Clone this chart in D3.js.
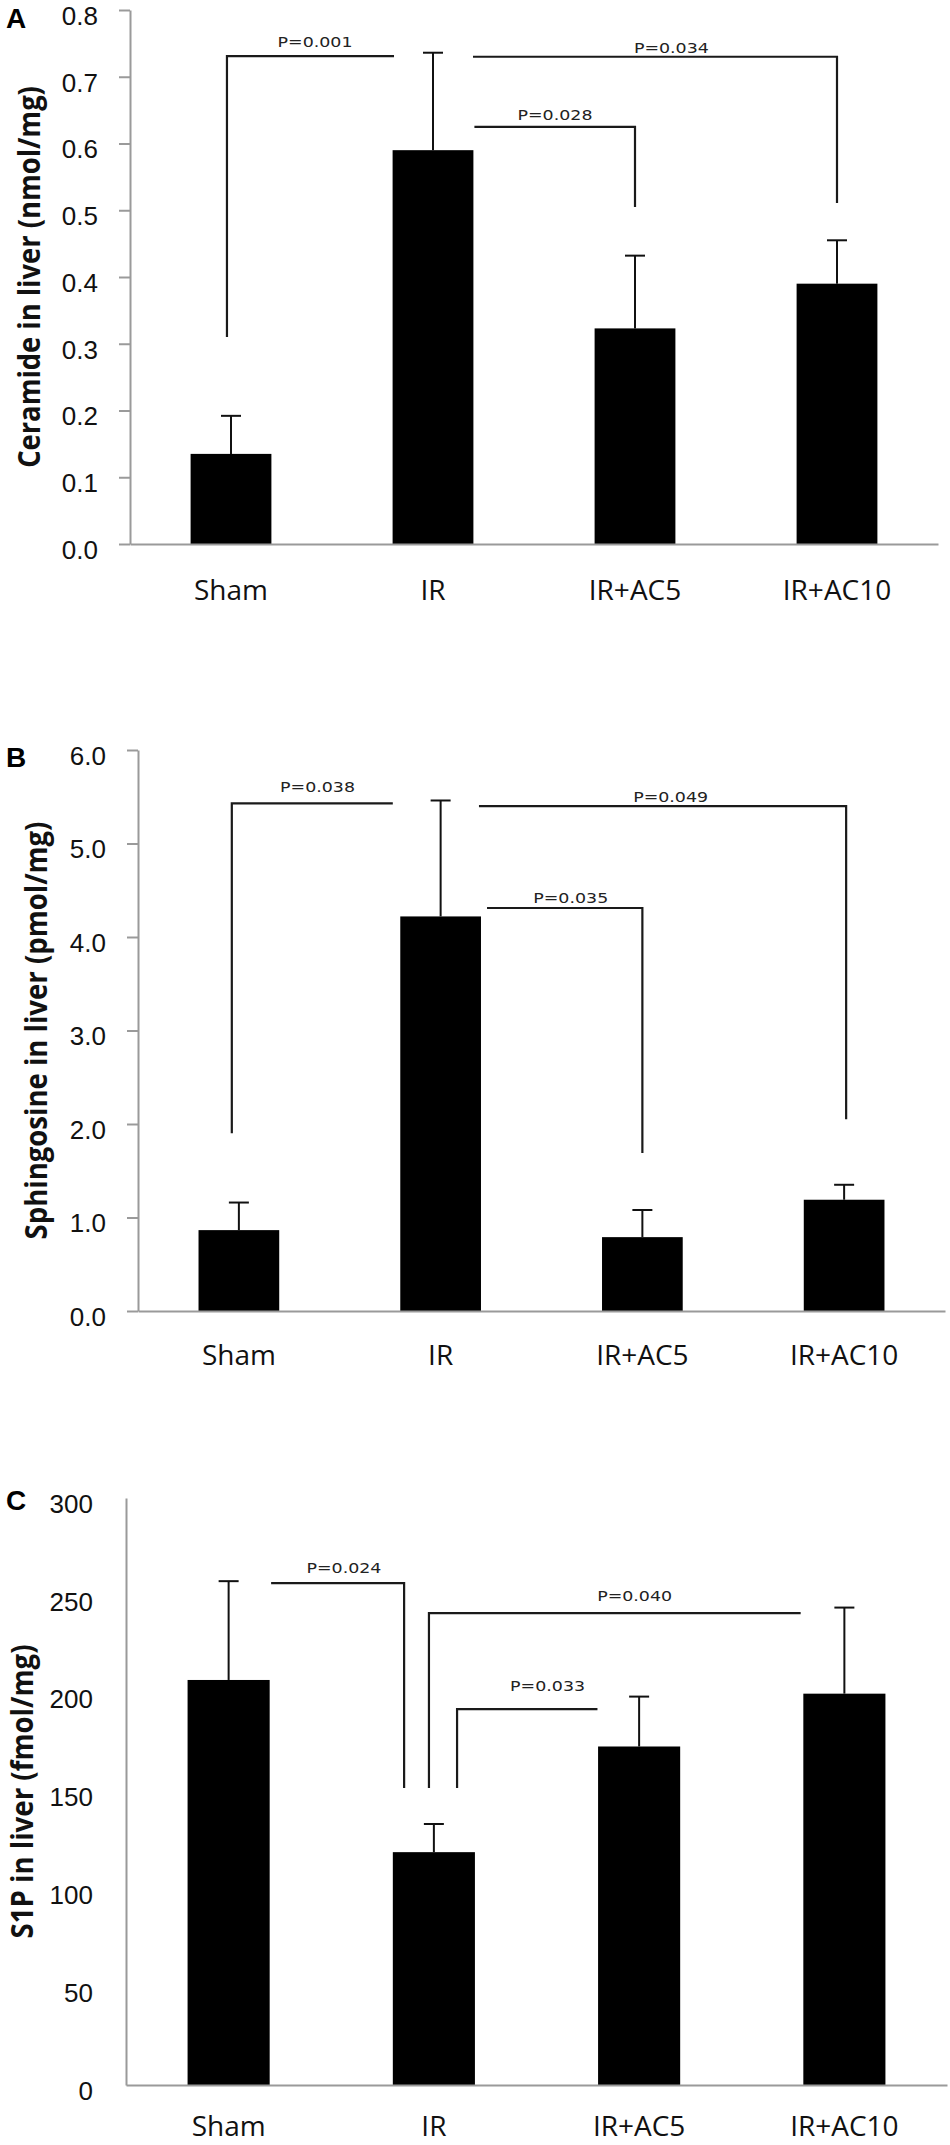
<!DOCTYPE html>
<html>
<head>
<meta charset="utf-8">
<script src="https://cdn.jsdelivr.net/npm/d3@7"></script>
<style>
  body { margin: 0; background: #fff; }
  svg { display: block; }
</style>
</head>
<body>
<svg id="fig" width="950" height="2145"></svg>
<script>
const groups = ["Sham", "IR", "IR+AC5", "IR+AC10"];

// A - ceramide (nmol/mg)
const ceramide = [0.135, 0.59, 0.323, 0.39];
const ceramideErr = [0.057, 0.146, 0.109, 0.065];
const ceramideTicks = [0, 0.1, 0.2, 0.3, 0.4, 0.5, 0.6, 0.7, 0.8];

// B - sphingosine (pmol/mg)
const sphingosine = [0.865, 4.22, 0.79, 1.19];
const sphingosineErr = [0.295, 1.24, 0.29, 0.16];
const sphingosineTicks = [0, 1, 2, 3, 4, 5, 6];

// C - S1P (fmol/mg)
const s1p = [207, 119, 173, 200];
const s1pErr = [50.5, 14.4, 25.5, 44];
const s1pTicks = [0, 50, 100, 150, 200, 250, 300];

// significance brackets, x in group units (0 = Sham), y in data units
const ceramideP = [
    { p: "P=0.001", x1: -0.02, x2: 0.807, top: 0.731, legL: 0.31, legR: null, tx: 0.416, ty: 0.745 },
    { p: "P=0.034", x1: 1.198, x2: 3.0, top: 0.73, legL: null, legR: 0.511, tx: 2.18, ty: 0.736 },
    { p: "P=0.028", x1: 1.205, x2: 2.0, top: 0.625, legL: null, legR: 0.505, tx: 1.604, ty: 0.635 }
];
const sphingosineP = [
    { p: "P=0.038", x1: -0.035, x2: 0.763, top: 5.43, legL: 1.90, legR: null, tx: 0.39, ty: 5.55 },
    { p: "P=0.049", x1: 1.19, x2: 3.01, top: 5.40, legL: null, legR: 2.05, tx: 2.14, ty: 5.44 },
    { p: "P=0.035", x1: 1.23, x2: 2.0, top: 4.31, legL: null, legR: 1.69, tx: 1.645, ty: 4.36 }
];
const s1pP = [
    { p: "P=0.024", x1: 0.207, x2: 0.855, top: 256.5, legL: null, legR: 151.8, tx: 0.562, ty: 261.6 },
    { p: "P=0.040", x1: 0.976, x2: 2.787, top: 241.2, legL: 151.8, legR: null, tx: 1.978, ty: 247.3 },
    { p: "P=0.033", x1: 1.113, x2: 1.797, top: 192.1, legL: 151.8, legR: null, tx: 1.554, ty: 201.3 }
];

const svg = d3.select("#fig");
const axisGrey = "#9a9a9a";

// squeeze/stretch a text horizontally (in its own frame) to a wanted length
const fitWidth = (sel, want, base) => {
    sel.each(function () {
        const w = this.getComputedTextLength();
        d3.select(this).attr("transform", `${base(this)} scale(${want / w},1)`);
    });
};

const drawPanel = (o) => {
    const g = svg.append("g");

    const x = d3.scaleBand()
        .domain(groups)
        .range([o.left, o.right])
        .paddingInner(0.6)
        .paddingOuter(0.3);
    const bw = x.bandwidth();
    const pos = d3.scaleLinear()
        .domain([0, groups.length - 1])
        .range([x(groups[0]) + bw / 2, x(groups[groups.length - 1]) + bw / 2]);
    const y = d3.scaleLinear()
        .domain([0, d3.max(o.ticks)])
        .range([o.bottom, o.top]);

    // bars
    g.selectAll(".bar")
        .data(o.values)
        .enter().append("rect")
        .attr("class", "bar")
        .attr("x", (d, i) => x(groups[i]))
        .attr("y", d => y(d))
        .attr("width", bw)
        .attr("height", d => o.bottom - y(d))
        .attr("fill", "#000");

    // error bars (upper only)
    const eb = g.selectAll(".err")
        .data(o.values)
        .enter().append("g")
        .attr("class", "err")
        .attr("stroke", "#111")
        .attr("stroke-width", 2);
    eb.append("line")
        .attr("x1", (d, i) => pos(i))
        .attr("x2", (d, i) => pos(i))
        .attr("y1", d => y(d))
        .attr("y2", (d, i) => y(d + o.errs[i]));
    eb.append("line")
        .attr("x1", (d, i) => pos(i) - 10)
        .attr("x2", (d, i) => pos(i) + 10)
        .attr("y1", (d, i) => y(d + o.errs[i]))
        .attr("y2", (d, i) => y(d + o.errs[i]));

    // axes
    const yAxis = g.append("g")
        .attr("transform", `translate(${o.left},0)`)
        .call(d3.axisLeft(y)
            .tickValues(o.ticks)
            .tickFormat(o.fmt)
            .tickSize(o.tickLen)
            .tickSizeOuter(0)
            .tickPadding(o.labelGap - o.tickLen));
    const xAxis = g.append("g")
        .attr("transform", `translate(0,${o.bottom})`)
        .call(d3.axisBottom(x).tickSize(0).tickSizeOuter(0).tickPadding(o.catGap));

    [yAxis, xAxis].forEach(a => {
        a.selectAll("path, line").attr("stroke", axisGrey).attr("stroke-width", 2);
        a.selectAll("text").attr("fill", "#111");
    });
    yAxis.selectAll("text")
        .attr("font-family", "'Liberation Sans', Arial, sans-serif")
        .attr("font-size", 26)
        .attr("dy", "0.55em");
    xAxis.selectAll("text")
        .attr("font-family", "'Open Sans', sans-serif")
        .attr("font-size", 28);

    // y title
    const tx = o.titleX, ty = (o.top + o.bottom) / 2;
    g.append("text")
        .attr("text-anchor", "middle")
        .attr("font-family", "'Open Sans', sans-serif")
        .attr("font-weight", "bold")
        .attr("font-size", 30)
        .attr("fill", "#111")
        .text(o.title)
        .call(fitWidth, o.titleLen, () => `translate(${tx},${ty}) rotate(-90)`);

    // panel letter
    g.append("text")
        .attr("x", 6)
        .attr("y", o.letterY)
        .attr("font-family", "'Liberation Sans', Arial, sans-serif")
        .attr("font-weight", "bold")
        .attr("font-size", 28)
        .text(o.letter);

    // brackets
    const br = g.selectAll(".bracket")
        .data(o.brackets)
        .enter().append("g")
        .attr("class", "bracket");
    br.append("path")
        .attr("d", d => {
            let s = d.legL !== null
                ? `M${pos(d.x1)},${y(d.legL)}V${y(d.top)}`
                : `M${pos(d.x1)},${y(d.top)}`;
            s += `H${pos(d.x2)}`;
            if (d.legR !== null) s += `V${y(d.legR)}`;
            return s;
        })
        .attr("fill", "none")
        .attr("stroke", "#1a1a1a")
        .attr("stroke-width", 2.2);
    br.append("text")
        .attr("text-anchor", "middle")
        .attr("font-family", "'DejaVu Sans', sans-serif")
        .attr("font-size", 14)
        .attr("fill", "#222")
        .text(d => d.p)
        .call(fitWidth, 75, el => {
            const d = d3.select(el).datum();
            return `translate(${pos(d.tx)},${y(d.ty)})`;
        });
};

drawPanel({
    letter: "A", letterY: 28,
    values: ceramide, errs: ceramideErr, ticks: ceramideTicks, fmt: d3.format(".1f"),
    brackets: ceramideP,
    left: 130, right: 938, top: 10, bottom: 544,
    tickLen: 11, labelGap: 32, catGap: 36,
    title: "Ceramide in liver (nmol/mg)", titleX: 40, titleLen: 382
});

drawPanel({
    letter: "B", letterY: 767,
    values: sphingosine, errs: sphingosineErr, ticks: sphingosineTicks, fmt: d3.format(".1f"),
    brackets: sphingosineP,
    left: 138, right: 945, top: 750, bottom: 1311,
    tickLen: 11, labelGap: 32, catGap: 34,
    title: "Sphingosine in liver (pmol/mg)", titleX: 47, titleLen: 418
});

drawPanel({
    letter: "C", letterY: 1510,
    values: s1p, errs: s1pErr, ticks: s1pTicks, fmt: d3.format("d"),
    brackets: s1pP,
    left: 126, right: 947, top: 1498, bottom: 2085,
    tickLen: 0, labelGap: 33, catGap: 31,
    title: "S1P in liver (fmol/mg)", titleX: 33, titleLen: 294
});
</script>
</body>
</html>
